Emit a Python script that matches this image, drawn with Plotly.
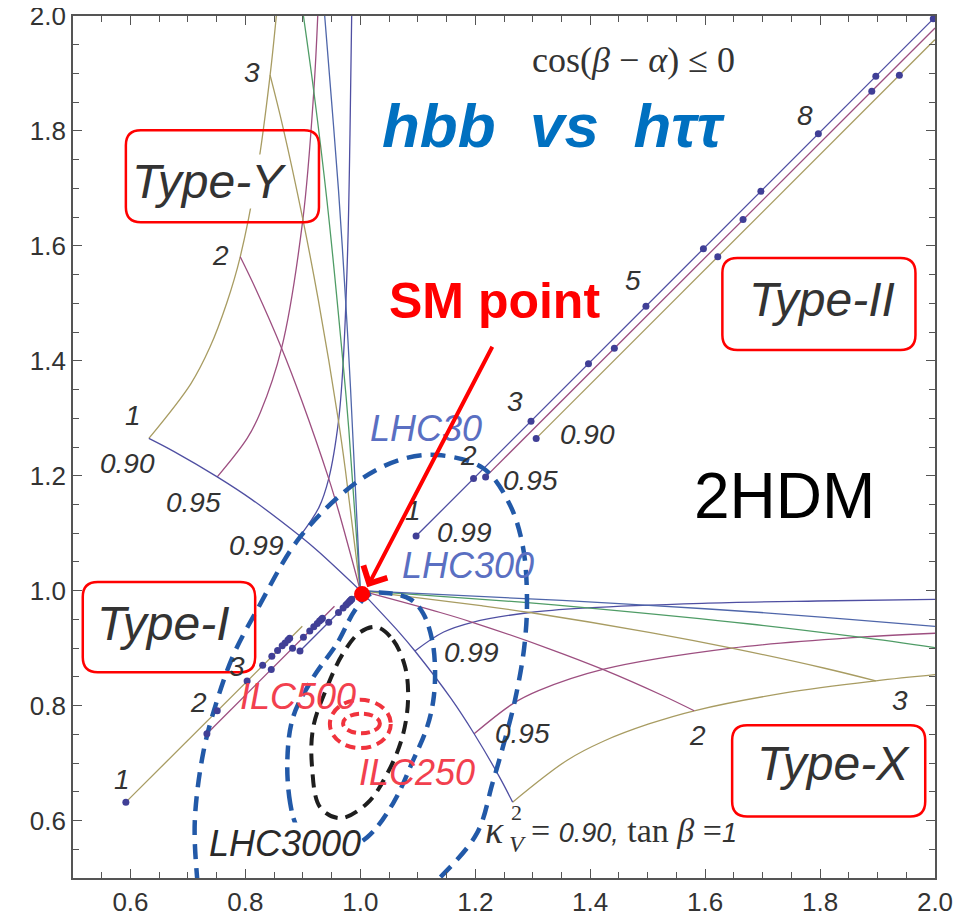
import plotly.graph_objects as go

# ---------------- data ----------------
AXIS_TICKS = [0.6, 0.8, 1.0, 1.2, 1.4, 1.6, 1.8, 2.0]
AXIS_TICK_TEXT = ["0.6", "0.8", "1.0", "1.2", "1.4", "1.6", "1.8", "2.0"]

# Type-Y branch (x = kappa_tau, y = kappa_b); the Type-X branch is its mirror image
# constant kappa_V^2 curves (tan beta varies)
KV090_TAU = [0.632, 0.705, 0.738, 0.768, 0.791, 0.822, 0.843, 0.854]
KV090_B = [1.265, 1.360, 1.423, 1.502, 1.581, 1.739, 1.897, 2.002]
KV095_TAU = [0.751, 0.803, 0.826, 0.863, 0.900, 0.919, 0.926]
KV095_B = [1.198, 1.265, 1.310, 1.422, 1.646, 1.869, 2.003]
KV099_TAU = [0.895, 0.928, 0.945, 0.962, 0.970, 0.978, 0.982, 0.985]
KV099_B = [1.095, 1.145, 1.195, 1.295, 1.395, 1.595, 1.795, 2.005]
# constant tan beta curves (kappa_V varies from 1 down)
TB1_TAU = [1.000, 0.927, 0.895, 0.812, 0.751, 0.676, 0.632]
TB1_B = [1.000, 1.068, 1.095, 1.158, 1.198, 1.242, 1.265]
TB2_TAU = [1.000, 0.962, 0.945, 0.898, 0.863, 0.818, 0.791]
TB2_B = [1.000, 1.139, 1.195, 1.331, 1.422, 1.525, 1.581]
TB3_TAU = [1.000, 0.974, 0.962, 0.927, 0.900, 0.865, 0.843]
TB3_B = [1.000, 1.210, 1.295, 1.505, 1.646, 1.808, 1.897]
TB4_TAU = [1.000, 0.980, 0.970, 0.942, 0.919, 0.901]
TB4_B = [1.000, 1.280, 1.395, 1.678, 1.869, 2.000]
TB5_TAU = [1.000, 0.983, 0.975, 0.962, 0.950, 0.938]
TB5_B = [1.000, 1.351, 1.495, 1.697, 1.851, 2.000]

# Type-II lines and tan beta dots
T2_099_X = [1.097, 1.197, 1.297, 1.397, 1.497, 1.597, 1.697, 1.797, 1.897, 1.997]
T2_099_Y = [1.095, 1.195, 1.295, 1.395, 1.495, 1.595, 1.695, 1.795, 1.895, 1.995]
T2_095_X = [1.218, 1.442, 1.666, 1.890, 2.000]
T2_095_Y = [1.198, 1.422, 1.646, 1.869, 1.979]
T2_090_X = [1.306, 1.622, 1.938, 2.000]
T2_090_Y = [1.265, 1.581, 1.897, 1.959]

# Type-I lines and tan beta dots
T1_090_X = [0.592, 0.751, 0.803, 0.830, 0.846, 0.856, 0.864, 0.869, 0.874, 0.877, 0.899]
T1_090_Y = [0.632, 0.791, 0.843, 0.870, 0.886, 0.896, 0.904, 0.909, 0.914, 0.917, 0.938]
T1_095_X = [0.733, 0.845, 0.882, 0.901, 0.912, 0.919, 0.925, 0.929, 0.932, 0.934, 0.955]
T1_095_Y = [0.751, 0.863, 0.900, 0.919, 0.930, 0.937, 0.943, 0.947, 0.950, 0.952, 0.973]
T1_099_X = [0.895, 0.945, 0.962, 0.970, 0.975, 0.978, 0.981, 0.982, 0.984, 0.985, 0.992]
T1_099_Y = [0.895, 0.945, 0.962, 0.970, 0.975, 0.978, 0.981, 0.982, 0.984, 0.985, 0.992]

# expected precision contours
LHC30_X = [0.722, 0.716, 0.712, 0.727, 0.751, 0.780, 0.820, 0.895, 0.994, 1.070, 1.134, 1.214,
           1.260, 1.283, 1.290, 1.285, 1.269, 1.250, 1.230, 1.203, 1.139, 1.100]
LHC30_Y = [0.450, 0.500, 0.600, 0.720, 0.810, 0.890, 0.966, 1.093, 1.189, 1.228, 1.236, 1.213,
           1.150, 1.076, 0.983, 0.900, 0.809, 0.735, 0.665, 0.578, 0.501, 0.465]
LHC300_X = [0.890, 0.878, 0.873, 0.883, 0.918, 0.960, 0.990, 1.015, 1.045, 1.087, 1.109, 1.125,
            1.130, 1.127, 1.116, 1.092, 1.057, 1.012, 0.960, 0.915, 0.890]
LHC300_Y = [0.588, 0.630, 0.705, 0.780, 0.849, 0.909, 0.965, 0.993, 0.996, 0.985, 0.961, 0.914,
            0.862, 0.809, 0.762, 0.705, 0.630, 0.571, 0.545, 0.558, 0.588]
LHC3000_X = [1.029, 1.057, 1.078, 1.083, 1.073, 1.047, 1.012, 0.965, 0.930, 0.916, 0.918, 0.942,
             0.970, 1.000, 1.029]
LHC3000_Y = [0.9365, 0.914, 0.867, 0.809, 0.745, 0.682, 0.630, 0.604, 0.623, 0.693, 0.762, 0.832,
             0.891, 0.928, 0.9365]
ILC250_BOX = [0.947, 0.726, 1.053, 0.810]   # x0, y0, x1, y1
ILC500_BOX = [0.970, 0.752, 1.034, 0.786]

SM_POINT = [1.003, 0.994]

# ---------------- styles ----------------
C_BLUE = "#4f4fa2"
C_PURPLE = "#9d4f80"
C_OLIVE = "#a89c62"
C_GREEN = "#4f9c66"
C_BLUE2 = "#4f66aa"
C_DOT = "#403f96"
C_LHC = "#2259a8"
SANS = "Liberation Sans, Arial, sans-serif"
SERIF = "Liberation Serif, Times New Roman, serif"

fig = go.Figure()


def add_line(x, y, color, width=1.3, dash=None, shape="spline"):
    fig.add_trace(go.Scatter(x=x, y=y, mode="lines",
                             line=dict(color=color, width=width, dash=dash, shape=shape),
                             hoverinfo="skip", showlegend=False))


def add_dots(x, y):
    fig.add_trace(go.Scatter(x=x, y=y, mode="markers",
                             marker=dict(color=C_DOT, size=7, symbol="circle"),
                             hoverinfo="skip", showlegend=False, cliponaxis=False))


# Type-Y and Type-X grids
grid = [
    (KV090_TAU, KV090_B, C_OLIVE), (KV095_TAU, KV095_B, C_PURPLE), (KV099_TAU, KV099_B, C_BLUE),
    (TB1_TAU, TB1_B, C_BLUE), (TB2_TAU, TB2_B, C_PURPLE), (TB3_TAU, TB3_B, C_OLIVE),
    (TB4_TAU, TB4_B, C_GREEN), (TB5_TAU, TB5_B, C_BLUE2),
]
for tau, b, col in grid:
    add_line(tau, b, col)      # Type-Y
    add_line(b, tau, col)      # Type-X

# Type-II
add_line(T2_090_X, T2_090_Y, C_OLIVE, shape="linear")
add_line(T2_095_X, T2_095_Y, C_PURPLE, shape="linear")
add_line(T2_099_X, T2_099_Y, C_BLUE, shape="linear")
# Type-I
add_line(T1_090_X, T1_090_Y, C_OLIVE, shape="linear")
add_line(T1_095_X, T1_095_Y, C_PURPLE, shape="linear")
add_line(T1_099_X, T1_099_Y, C_BLUE, shape="linear")

# contours
add_line(LHC30_X, LHC30_Y, C_LHC, width=4.5, dash="15px,9px")
add_line(LHC300_X, LHC300_Y, C_LHC, width=4.5, dash="14px,8px")
add_line(LHC3000_X, LHC3000_Y, "#1e1e1e", width=4, dash="13px,8px")

# dots
add_dots(T2_099_X, T2_099_Y)
add_dots(T2_095_X[:-1], T2_095_Y[:-1])
add_dots(T2_090_X[:-1], T2_090_Y[:-1])
add_dots(T1_090_X[:-1], T1_090_Y[:-1])
add_dots(T1_095_X[:-1], T1_095_Y[:-1])
add_dots(T1_099_X[:-1], T1_099_Y[:-1])

# SM point
fig.add_trace(go.Scatter(x=[SM_POINT[0]], y=[SM_POINT[1]], mode="markers",
                         marker=dict(color="#ff0000", size=16), hoverinfo="skip",
                         showlegend=False))

shapes = []
for bx, dash in ((ILC250_BOX, "10px,6px"), (ILC500_BOX, "9px,5px")):
    shapes.append(dict(type="circle", xref="x", yref="y", x0=bx[0], y0=bx[1], x1=bx[2], y1=bx[3],
                       line=dict(color="#f0333d", width=4, dash=dash), layer="above"))


def rounded_box(x0, y0, x1, y1, r=0.026):
    return (f"M{x0 + r},{y0} L{x1 - r},{y0} Q{x1},{y0} {x1},{y0 + r} L{x1},{y1 - r} "
            f"Q{x1},{y1} {x1 - r},{y1} L{x0 + r},{y1} Q{x0},{y1} {x0},{y1 - r} "
            f"L{x0},{y0 + r} Q{x0},{y0} {x0 + r},{y0} Z")


boxes = [(0.592, 1.641, 0.928, 1.801), (1.630, 1.419, 1.966, 1.579),
         (0.517, 0.858, 0.817, 1.015), (1.647, 0.607, 1.983, 0.766)]
for b in boxes:
    shapes.append(dict(type="path", xref="x", yref="y", path=rounded_box(*b),
                       line=dict(color="#ff0000", width=2.5), layer="above"))

ann = []


def label(x, y, text, size=28, color="#333333", family=SANS, italic=True, bold=False,
          xanchor="center", bg=None):
    d = dict(x=x, y=y, xref="x", yref="y", text=text, showarrow=False, xanchor=xanchor,
             yanchor="middle",
             font=dict(family=family, size=size, color=color,
                       style="italic" if italic else "normal",
                       weight="bold" if bold else "normal"))
    if bg:
        d["bgcolor"] = bg
        d["borderpad"] = 0
    ann.append(d)


# tan beta / kappa_V labels
for x, y, t in [(0.604, 1.305, "1"), (0.594, 1.222, "0.90"), (0.709, 1.154, "0.95"),
                (0.820, 1.079, "0.99"), (0.756, 1.584, "2"), (0.811, 1.901, "3"),
                (1.194, 0.893, "0.99"), (1.283, 0.752, "0.95"), (1.586, 0.748, "2"),
                (1.939, 0.809, "3"),
                (0.585, 0.672, "1"), (0.718, 0.806, "2"), (0.785, 0.868, "3"),
                (1.092, 1.140, "1"), (1.188, 1.236, "2"), (1.269, 1.330, "3"),
                (1.475, 1.539, "5"), (1.774, 1.826, "8"),
                (1.182, 1.102, "0.99"), (1.296, 1.192, "0.95"), (1.395, 1.271, "0.90")]:
    label(x, y, t)

# type labels
label(0.737, 1.712, "Type-Y", size=48, bg="white")
label(1.804, 1.506, "Type-II", size=48, bg="white")
label(0.657, 0.943, "Type-I", size=48, bg="white")
label(1.823, 0.700, "Type-X", size=48, bg="white")

# contour labels
label(1.013, 1.283, "LHC30", size=36, color="#5a6fc2", xanchor="left")
label(1.069, 1.044, "LHC300", size=36, color="#5a6fc2", xanchor="left")
label(0.735, 0.560, "LHC3000", size=36, color="#2a2a2a", xanchor="left", bg="white")
label(0.787, 0.815, "ILC500", size=36, color="#f2404e", xanchor="left")
label(0.994, 0.684, "ILC250", size=36, color="#f2404e", xanchor="left")

# titles
label(1.475, 1.923, "cos(<i>β</i> − <i>α</i>) ≤ 0", size=36, color="#333333", family=SERIF,
      italic=False)
label(1.336, 1.810, "hbb\u00a0\u00a0vs\u00a0\u00a0hττ", size=62, color="#0070c0", bold=True)
label(1.233, 1.504, "SM point", size=50, color="#ff0000", italic=False, bold=True)
label(1.738, 1.164, "2HDM", size=64, color="#000000", italic=False)

# kappa_V^2 = 0.90, tan beta = 1
label(1.214, 0.583, "κ", size=38, color="#333333", family=SERIF, italic=True, xanchor="left")
label(1.258, 0.614, "2", size=22, color="#333333", family=SERIF, italic=False, xanchor="left")
label(1.256, 0.560, "V", size=24, color="#333333", family=SERIF, italic=True, xanchor="left")
label(1.294, 0.583,
      "= <span style=\"font-family:Liberation Sans;font-style:italic;font-size:27px\">0.90,</span>"
      " tan <i>β</i> =<span style=\"font-family:Liberation Sans;font-style:italic;font-size:27px\">1</span>",
      size=34, color="#333333", family=SERIF, italic=False, xanchor="left")

# arrow to the SM point
ann.append(dict(x=1.012, y=1.006, ax=1.231, ay=1.427, xref="x", yref="y", axref="x", ayref="y",
                text="", showarrow=True, arrowhead=4, arrowsize=1.3, arrowwidth=4,
                arrowcolor="#ff0000", standoff=0))

axis_common = dict(
    tickvals=AXIS_TICKS, ticktext=AXIS_TICK_TEXT, ticks="inside", ticklen=9, tickwidth=1.3,
    tickcolor="#555555", showline=True, linecolor="#555555", linewidth=1.6, mirror="allticks",
    showgrid=False, zeroline=False, automargin=False, ticklabeloverflow="allow",
    tickfont=dict(family=SANS, size=26, color="#333333"),
    minor=dict(dtick=0.05, tick0=0.5, ticks="inside", ticklen=6, tickwidth=1.2,
               tickcolor="#555555", showgrid=False),
)

# the page adds an 8px body margin at top-left, so the figure is 8px smaller and margins shifted
fig.update_layout(
    width=972, height=910, autosize=False,
    margin=dict(l=65, r=45, t=8, b=40, pad=0),
    paper_bgcolor="white", plot_bgcolor="white",
    xaxis=dict(range=[0.5, 2.0], **axis_common),
    yaxis=dict(range=[0.5, 2.0], **axis_common),
    shapes=shapes, annotations=ann, showlegend=False,
)

fig.write_html("out.html")
